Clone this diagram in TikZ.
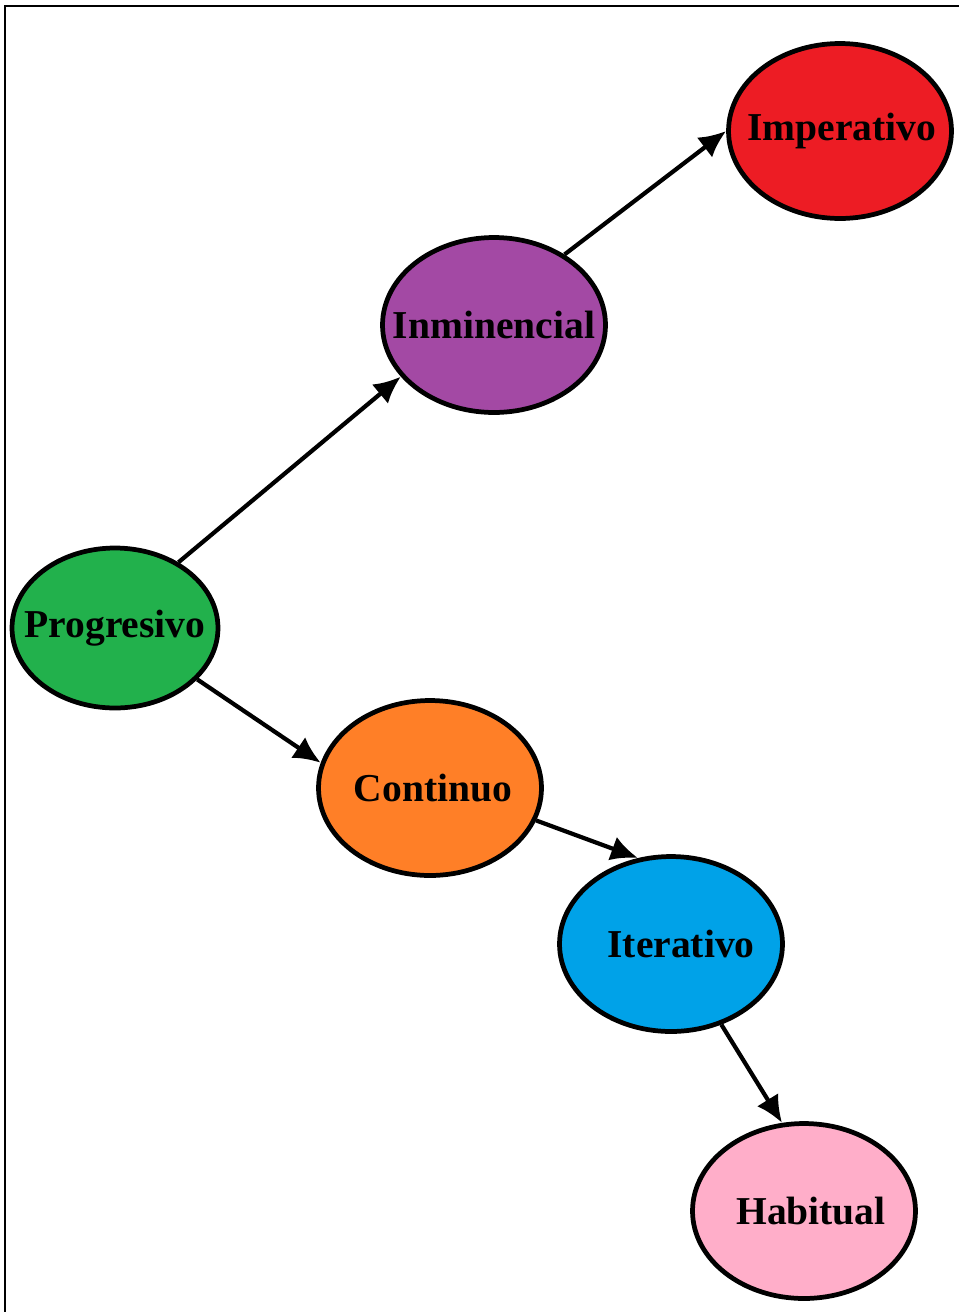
\documentclass[tikz,border=0pt]{standalone}
\usepackage{fontspec}
\setmainfont{Liberation Serif}
\usetikzlibrary{arrows.meta,shapes.geometric}

\definecolor{pgreen}{HTML}{22B14C}
\definecolor{ppurple}{HTML}{A349A4}
\definecolor{pred}{HTML}{ED1C24}
\definecolor{porange}{HTML}{FF7F27}
\definecolor{pblue}{HTML}{00A2E8}
\definecolor{ppink}{HTML}{FFAEC9}

\begin{document}
\begin{tikzpicture}[
  x=0.02cm, y=-0.02cm,
  aspect/.style={ellipse, draw, line width=2.7pt, inner sep=0pt,
                 minimum width=4.46cm, minimum height=3.5cm},
  lbl/.style={font=\fontsize{22.5}{27}\selectfont\bfseries, inner sep=0pt},
  arrow/.style={-{Latex[length=5.4mm,width=5mm]}, line width=2.4pt}
]
\useasboundingbox (0,0) rectangle (958,1312);
\draw[line width=1pt] (5,1320) -- (5,6) -- (970,6);

\node[aspect, fill=pred, label={[lbl, xshift=0.04cm]center:Imperativo}] (imp) at (840,131) {};
\node[aspect, fill=ppurple, label={[lbl]center:Inminencial}] (inm) at (494,325) {};
\node[aspect, fill=pgreen, minimum width=4.12cm, minimum height=3.2cm,
      label={[lbl]center:Progresivo}] (prog) at (115,628) {};
\node[aspect, fill=porange, label={[lbl, xshift=0.06cm]center:Continuo}] (cont) at (430,788) {};
\node[aspect, fill=pblue, label={[lbl, xshift=0.2cm]center:Iterativo}] (iter) at (671,944) {};
\node[aspect, fill=ppink, label={[lbl, xshift=0.14cm]center:Habitual}] (hab) at (804,1211) {};

\draw[arrow] (prog.46) -- (inm.209);
\draw[arrow] (inm.45) -- (imp.180);
\draw[arrow] (prog.-32) -- (cont.167);
\draw[arrow] (cont.-17) -- (iter.111);
\draw[arrow] (iter.-58) -- (hab.104);
\end{tikzpicture}
\end{document}
